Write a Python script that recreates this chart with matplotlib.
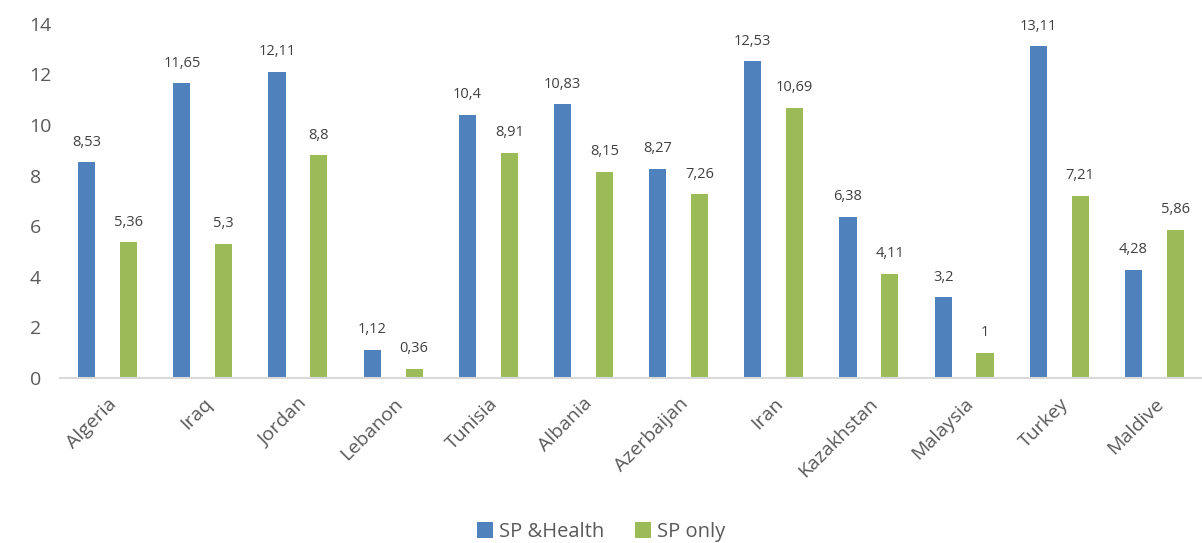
import numpy as np
import matplotlib.pyplot as plt

# data
countries = ['Algeria', 'Iraq', 'Jordan', 'Lebanon', 'Tunisia', 'Albania',
             'Azerbaijan', 'Iran', 'Kazakhstan', 'Malaysia', 'Turkey', 'Maldive']
sp_health = [8.53, 11.65, 12.11, 1.12, 10.4, 10.83, 8.27, 12.53, 6.38, 3.2, 13.11, 4.28]
sp_only = [5.36, 5.3, 8.8, 0.36, 8.91, 8.15, 7.26, 10.69, 4.11, 1, 7.21, 5.86]

BLUE = '#4F81BD'
GREEN = '#9BBB59'

plt.rcParams['font.family'] = ['Open Sans', 'DejaVu Sans']

fig = plt.figure(figsize=(12.02, 5.43), dpi=100)
ax = fig.add_axes([0.05, 0.304, 0.95, 0.652])

x = np.arange(len(countries))
w = 0.18
off = 0.22
b1 = ax.bar(x - off, sp_health, w, color=BLUE, label='SP &Health')
b2 = ax.bar(x + off, sp_only, w, color=GREEN, label='SP only')


def fmt(v):
    return ('%g' % v).replace('.', ',')


for bars, vals in ((b1, sp_health), (b2, sp_only)):
    for rect, v in zip(bars, vals):
        ax.annotate(fmt(v), (rect.get_x() + rect.get_width() / 2, v),
                    xytext=(0, 9), textcoords='offset points',
                    ha='center', va='bottom', fontsize=10.5, color='#404040')

ax.set_xlim(-0.5, len(countries) - 0.5)
ax.set_ylim(0, 14)
ax.set_yticks(range(0, 15, 2))
ax.tick_params(axis='y', length=0, labelsize=14, labelcolor='#595959', pad=22)
ax.tick_params(axis='x', length=0, labelsize=14, labelcolor='#595959', pad=12)
ax.set_xticks(x)
ax.set_xticklabels(countries, rotation=45, ha='right', va='top',
                   rotation_mode='anchor')
for lbl in ax.get_yticklabels():
    lbl.set_horizontalalignment('left')

for s in ('top', 'right', 'left'):
    ax.spines[s].set_visible(False)
ax.spines['bottom'].set_color('#D9D9D9')
ax.spines['bottom'].set_linewidth(1.5)

fig.legend(handles=[b1, b2], loc='center', bbox_to_anchor=(0.5, 0.02),
           ncol=2, frameon=False, fontsize=14.5, handlelength=0.8,
           handleheight=0.8, handletextpad=0.3, columnspacing=1.5,
           labelcolor='#595959')

fig.savefig('out.png', dpi=100)
